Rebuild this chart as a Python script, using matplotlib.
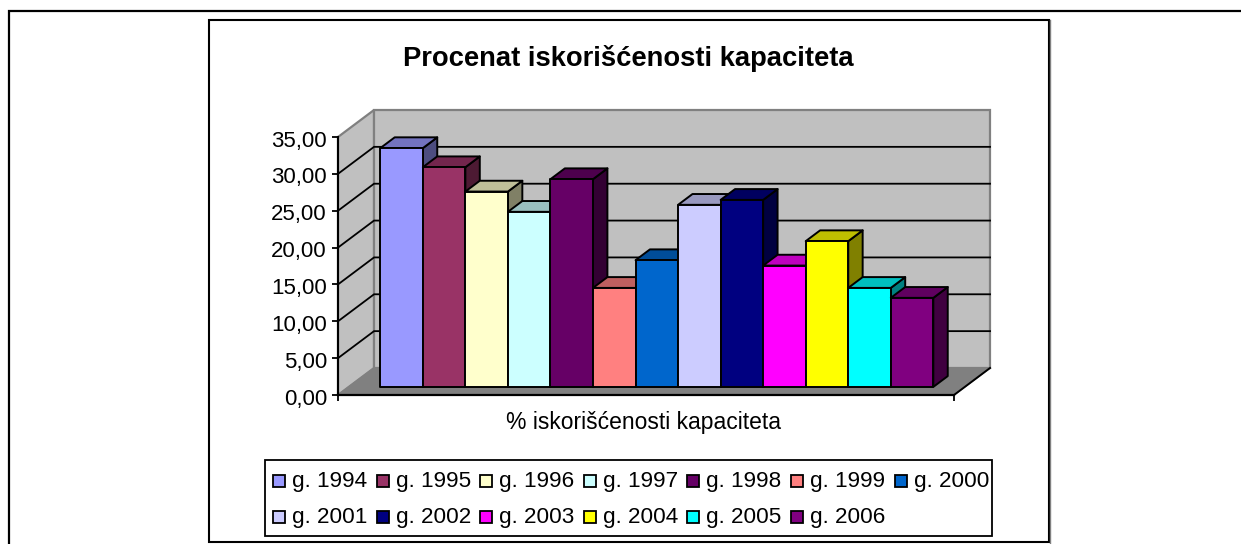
import matplotlib
matplotlib.use("Agg")
import matplotlib.pyplot as plt
from matplotlib.patches import Polygon, Rectangle
from matplotlib.colors import to_rgb
from matplotlib.transforms import ScaledTranslation

plt.rcParams['font.family'] = ['Liberation Sans', 'DejaVu Sans']

years = ["g. 1994", "g. 1995", "g. 1996", "g. 1997", "g. 1998", "g. 1999", "g. 2000",
         "g. 2001", "g. 2002", "g. 2003", "g. 2004", "g. 2005", "g. 2006"]
values = [32.39, 29.80, 26.50, 23.75, 28.18, 13.43, 17.19, 24.70, 25.37, 16.46, 19.77, 13.43, 12.08]
colors = ["#9999FF", "#993366", "#FFFFCC", "#CCFFFF", "#660066", "#FF8080", "#0066CC",
          "#CCCCFF", "#000080", "#FF00FF", "#FFFF00", "#00FFFF", "#800080"]
y_ticks = [0, 5, 10, 15, 20, 25, 30, 35]
title = "Procenat iskorišćenosti kapaciteta"
x_label = "% iskorišćenosti kapaciteta"

W, H = 1241, 544
GAP = 0.74
DX = 36 / 42.5     # depth shift in category units
DY = 27 / 7.37     # depth shift in value units


def shade(c, k):
    return tuple(v * k for v in to_rgb(c))


def pt(x, v, d):
    return (x + d * DX, v + d * DY)


fig = plt.figure(figsize=(W / 100, H / 100), dpi=100)
bg = fig.add_axes([0, 0, 1, 1])
bg.set_xlim(0, W)
bg.set_ylim(H, 0)
bg.axis("off")

# frames: the outer one is cut off by the right and bottom image edges
bg.plot([9, 9, W], [H, 11, 11], color="black", lw=1.6, solid_joinstyle="miter")
bg.plot([1050, 1050], [20, H], color="#808080", lw=1)
bg.add_patch(Rectangle((209, 20), 839.5, 522, fc="white", ec="black", lw=1.5, clip_on=False))

ax = fig.add_axes([338 / W, 1 - 395 / H, (954 - 338) / W, (395 - 137) / H])
ax.set_xlim(-GAP, len(values) + GAP)
ax.set_ylim(0, 35)
ax.patch.set_alpha(0)
for s in ["top", "right"]:
    ax.spines[s].set_visible(False)
ax.spines["left"].set_linewidth(1.5)
ax.spines["bottom"].set_linewidth(1.6)
ax.spines["left"].set_zorder(20)
ax.spines["bottom"].set_zorder(20)

x0, x1 = ax.get_xlim()
gray = "#808080"
wall = "#C0C0C0"
ax.add_patch(Polygon([pt(x0, 0, 0), pt(x0, 35, 0), pt(x0, 35, 1), pt(x0, 0, 1)], closed=True,
                     fc=wall, ec=gray, lw=1.6, clip_on=False, zorder=1))
ax.add_patch(Polygon([pt(x0, 0, 1), pt(x0, 35, 1), pt(x1, 35, 1), pt(x1, 0, 1)], closed=True,
                     fc=wall, ec=gray, lw=1.6, clip_on=False, zorder=1))
ax.add_patch(Polygon([pt(x0, 0, 0), pt(x0, 0, 1), pt(x1, 0, 1), pt(x1, 0, 0)], closed=True,
                     fc=gray, ec=gray, lw=1, clip_on=False, zorder=1))
# black outer floor edge
p = [pt(x1, 0, 0), pt(x1, 0, 1)]
ax.plot([p[0][0], p[1][0]], [p[0][1], p[1][1]], color="black", lw=1.4, clip_on=False, zorder=3)

for t in y_ticks[1:-1]:
    a, b, c = pt(x0, t, 0), pt(x0, t, 1), pt(x1, t, 1)
    ax.plot([a[0], b[0], c[0]], [a[1], b[1], c[1]], color="black", lw=1.3, clip_on=False, zorder=2,
            solid_joinstyle="miter")

for i, (v, c) in enumerate(zip(values, colors)):
    l, r = i, i + 1
    f, b = 0.3, 0.7
    kw = dict(closed=True, ec="black", lw=1.4, clip_on=False, joinstyle="round", zorder=5 + i * 0.01)
    ax.add_patch(Polygon([pt(r, 0, f), pt(r, 0, b), pt(r, v, b), pt(r, v, f)], fc=shade(c, 0.5), **kw))
    ax.add_patch(Polygon([pt(l, v, f), pt(l, v, b), pt(r, v, b), pt(r, v, f)], fc=shade(c, 0.75), **kw))
    ax.add_patch(Polygon([pt(l, 0, f), pt(l, v, f), pt(r, v, f), pt(r, 0, f)], fc=c, **kw))

ax.set_yticks(y_ticks)
ax.set_yticklabels([f"{t:.2f}".replace(".", ",") for t in y_ticks], fontsize=16)
ax.set_xticks([x0, x1])
ax.set_xticklabels([])
ax.tick_params(axis="both", length=4, width=1.3, color="black", pad=4)
# tick labels sit a little lower than the ticks
shift = ScaledTranslation(0, -1.5 / 100, fig.dpi_scale_trans)
for lab in ax.get_yticklabels():
    lab.set_transform(lab.get_transform() + shift)

bg.text(628.5, 59, title, ha="center", va="center", fontsize=19.75, fontweight="bold")
bg.text(643, 423, x_label, ha="center", va="center", fontsize=16.5)

# legend drawn by hand so the two rows keep the reference spacing
bg.add_patch(Rectangle((264.5, 460), 727, 76, fc="white", ec="black", lw=1.3, clip_on=False, zorder=6))
col_w = 103.6
for i, (name, c) in enumerate(zip(years, colors)):
    row, col = divmod(i, 7)
    lx = 273 + col * col_w
    ly = 480.5 + row * 36.5
    bg.add_patch(Rectangle((lx, ly - 6), 12, 12, fc=c, ec="black", lw=1.3, zorder=7))
    bg.text(lx + 19, ly + 1, name, ha="left", va="center", fontsize=16.2, zorder=7)

fig.savefig("out.png", dpi=100)
